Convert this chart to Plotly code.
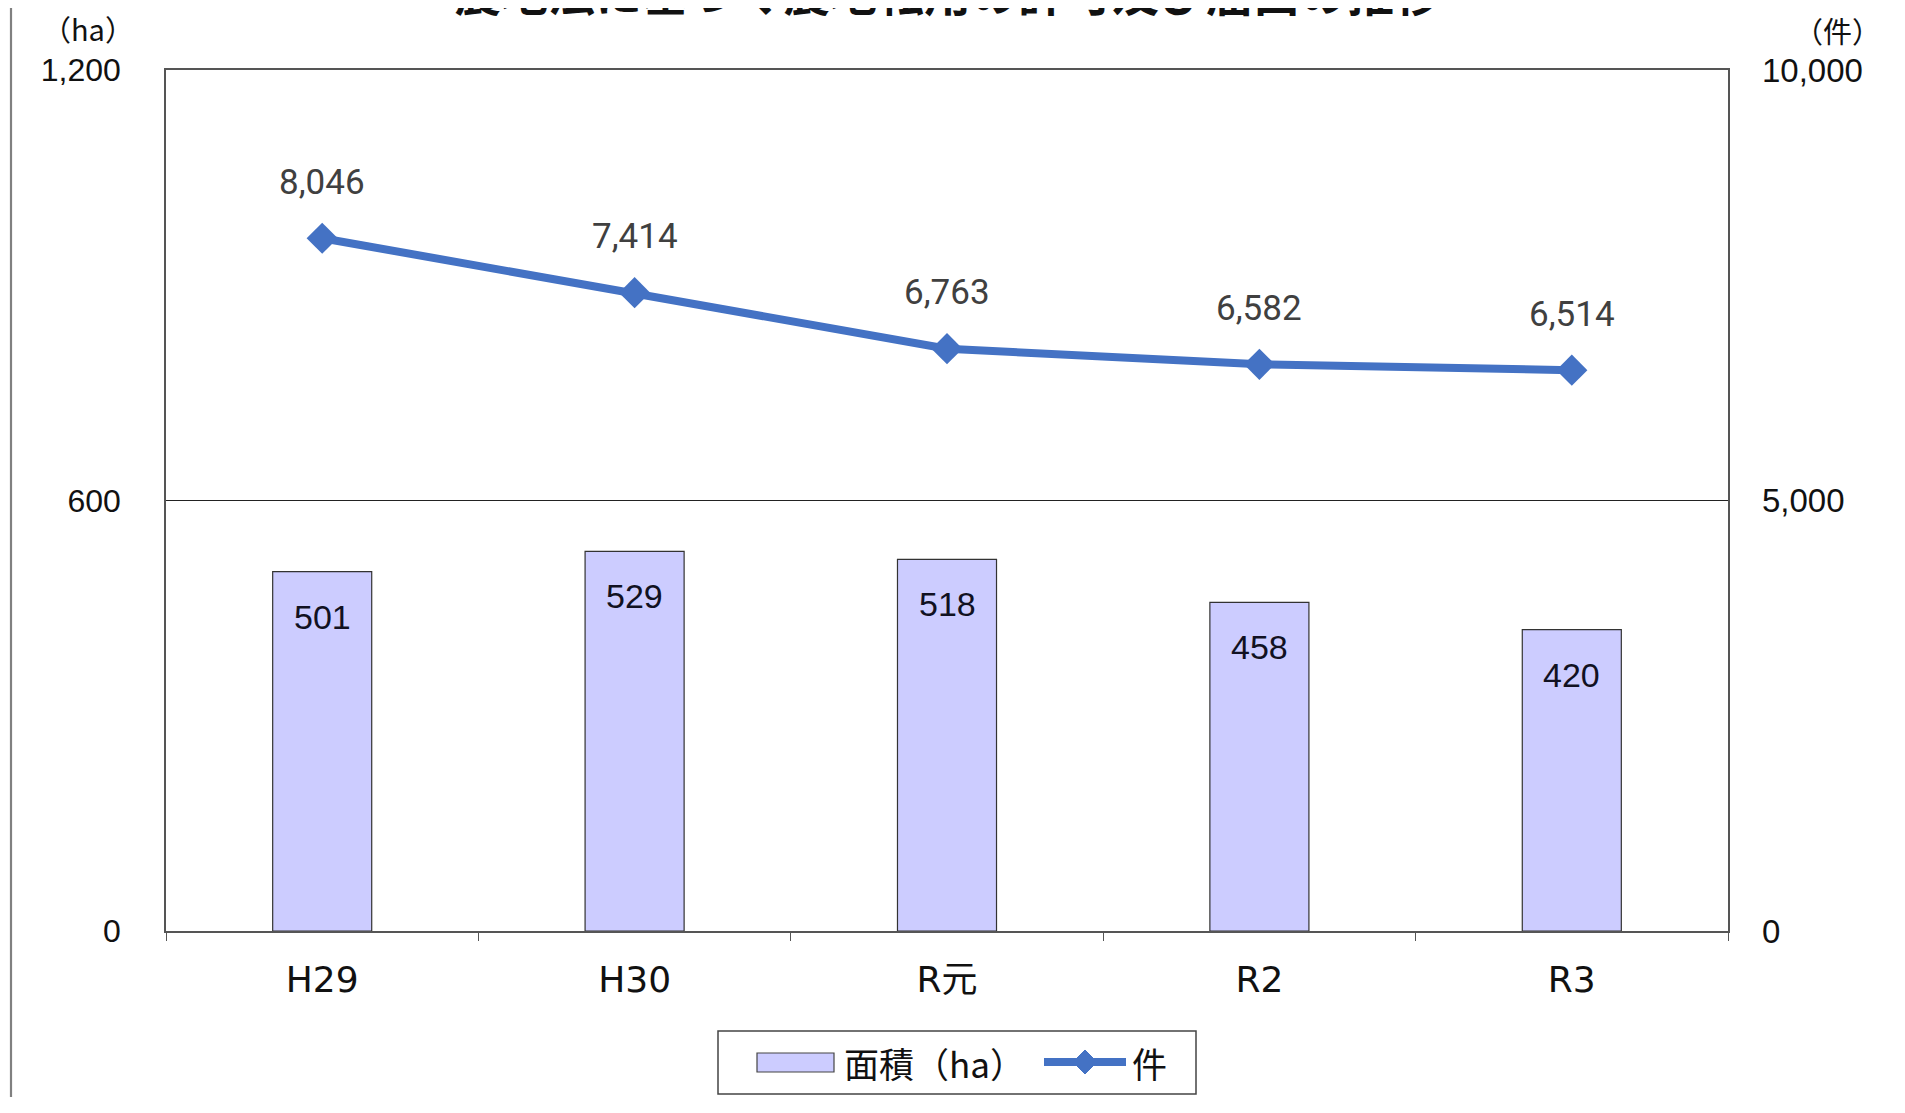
import plotly.graph_objects as go

categories = ["H29", "H30", "R元", "R2", "R3"]
area_ha = [501, 529, 518, 458, 420]
cases = [8046, 7414, 6763, 6582, 6514]
left_ticks = [0, 600, 1200]
right_ticks = [0, 5000, 10000]

TITLE = "農地法に基づく農地転用の許可及び届出の推移"
LEGEND_BAR = "面積（ha）"
LEGEND_LINE = "件"
NUM_FONT = "Liberation Sans, Arial, Noto Sans CJK JP"
JP_FONT = "Noto Sans CJK JP, Liberation Sans"
BAR_COLOR = "#CCCCFF"
LINE_COLOR = "#4472C4"

# page body has an 8px margin; compensate so the plot lands where the reference has it
OFF = 8
W, H = 1905 - OFF, 1113 - 3 * OFF
L, T = 166 - OFF, 70 - OFF
pw, ph = 1562, 861
R, B = W - L - pw, H - T - ph

def pp(xp, yp):
    """page pixel -> paper coords"""
    return (xp - OFF - L) / pw, 1 - (yp - OFF - T) / ph

fig = go.Figure()

fig.add_trace(go.Bar(
    x=categories, y=area_ha, name=LEGEND_BAR,
    marker=dict(color=BAR_COLOR, line=dict(color="#333333", width=1.2)),
    yaxis="y", showlegend=False,
))

fig.add_trace(go.Scatter(
    x=categories, y=cases, name=LEGEND_LINE, yaxis="y2", mode="lines+markers",
    line=dict(color=LINE_COLOR, width=8),
    marker=dict(symbol="diamond", size=24, color=LINE_COLOR),
    showlegend=False,
))

# bar value labels (inside top)
for c, v in zip(categories, area_ha):
    fig.add_annotation(x=c, y=v, xref="x", yref="y", text=f"{v:,}",
                       showarrow=False, yshift=-45,
                       font=dict(family=NUM_FONT, size=34, color="#111122"))

# line value labels (above points)
for c, v in zip(categories, cases):
    fig.add_annotation(x=c, y=v, xref="x", yref="y2", text=f"{v:,}",
                       showarrow=False, yshift=56,
                       font=dict(family="Roboto, Noto Sans, Liberation Sans", size=35, color="#404040"))

# title (partly clipped at the top edge, as in the reference)
fig.add_annotation(x=0.5, y=1.050, xref="paper", yref="paper", text=TITLE,
                   showarrow=False, xanchor="center", yanchor="bottom",
                   font=dict(family=JP_FONT, size=47, color="#111111", weight="bold"))

# unit labels
ux, uy = pp(88, 28)
fig.add_annotation(x=ux, y=uy, xref="paper", yref="paper", text="（ha）", showarrow=False,
                   xanchor="center", yanchor="middle",
                   font=dict(family=JP_FONT, size=29, color="#111111"))
ux, uy = pp(1837, 30)
fig.add_annotation(x=ux, y=uy, xref="paper", yref="paper", text="（件）", showarrow=False,
                   xanchor="center", yanchor="middle",
                   font=dict(family=JP_FONT, size=29, color="#111111"))

# outer frame (left and right edges; top/bottom lie outside the picture)
for xpix in (11, 1899):
    fx, fy0 = pp(xpix, 1200)
    _, fy1 = pp(xpix, -50)
    fig.add_shape(type="line", xref="paper", yref="paper", x0=fx, x1=fx, y0=fy0, y1=fy1,
                  line=dict(color="#808080", width=2.2))

# legend drawn by hand to match the reference's wide swatches
bx0, by0 = pp(718, 1094)
bx1, by1 = pp(1196, 1031)
fig.add_shape(type="rect", xref="paper", yref="paper", x0=bx0, x1=bx1, y0=by0, y1=by1,
              line=dict(color="#444444", width=1.5), fillcolor="white")
sx0, sy0 = pp(757, 1072)
sx1, sy1 = pp(834, 1053)
fig.add_shape(type="rect", xref="paper", yref="paper", x0=sx0, x1=sx1, y0=sy0, y1=sy1,
              line=dict(color="#444444", width=1.2), fillcolor=BAR_COLOR)
tx, ty = pp(842, 1062)
fig.add_annotation(x=tx, y=ty, xref="paper", yref="paper", text=LEGEND_BAR, showarrow=False,
                   xanchor="left", yanchor="middle",
                   font=dict(family=JP_FONT, size=35, color="#111111"))
lx0, ly = pp(1044, 1062)
lx1, _ = pp(1126, 1062)
fig.add_shape(type="line", xref="paper", yref="paper", x0=lx0, x1=lx1, y0=ly, y1=ly,
              line=dict(color=LINE_COLOR, width=8))
cxp, cyp, r = 1085, 1062, 12
pts = [pp(cxp, cyp - r), pp(cxp + r, cyp), pp(cxp, cyp + r), pp(cxp - r, cyp)]
path = "M " + " L ".join(f"{a:.5f},{b:.5f}" for a, b in pts) + " Z"
fig.add_shape(type="path", xref="paper", yref="paper", path=path,
              fillcolor=LINE_COLOR, line=dict(color=LINE_COLOR, width=1))
tx, ty = pp(1130, 1062)
fig.add_annotation(x=tx, y=ty, xref="paper", yref="paper", text=LEGEND_LINE, showarrow=False,
                   xanchor="left", yanchor="middle",
                   font=dict(family=JP_FONT, size=35, color="#111111"))

fig.update_layout(
    width=W, height=H,
    margin=dict(l=L, r=R, t=T, b=B, autoexpand=False),
    paper_bgcolor="white", plot_bgcolor="white",
    bargap=0.683,
    showlegend=False,
    xaxis=dict(type="category", showline=True, linecolor="#555555", linewidth=1.5, mirror=True,
               ticks="outside", tickson="boundaries", ticklen=8, tickcolor="#555555",
               tickfont=dict(family="DejaVu Sans, Noto Sans CJK JP", size=36, color="#111111"),
               ticklabelstandoff=16, showgrid=False, zeroline=False),
    yaxis=dict(range=[0, 1200], tickvals=left_ticks, tickformat=",d",
               showline=True, linecolor="#555555", linewidth=1.5, mirror=True,
               showgrid=True, gridcolor="#222222", gridwidth=1.2, zeroline=False,
               ticks="", ticklabelstandoff=37,
               tickfont=dict(family=NUM_FONT, size=32, color="#111111")),
    yaxis2=dict(range=[0, 10000], tickvals=right_ticks, tickformat=",d",
                overlaying="y", side="right", showgrid=False, zeroline=False,
                showline=False, ticks="", ticklabelstandoff=33,
                tickfont=dict(family=NUM_FONT, size=33, color="#111111")),
)

fig.write_html("out.html")
